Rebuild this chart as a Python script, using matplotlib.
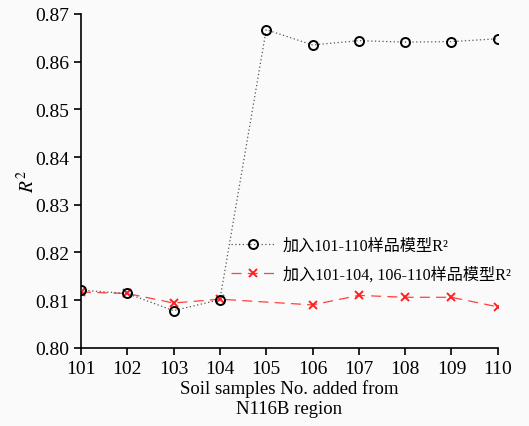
import matplotlib
matplotlib.use("Agg")
import matplotlib.pyplot as plt

x_all = [101, 102, 103, 104, 105, 106, 107, 108, 109, 110]
r2_all = [0.8121, 0.8114, 0.8078, 0.8101, 0.8667, 0.8635, 0.8644, 0.8641, 0.8642, 0.8648]
x_sub = [101, 102, 103, 104, 106, 107, 108, 109, 110]
r2_sub = [0.8117, 0.8114, 0.8094, 0.8102, 0.8090, 0.8110, 0.8106, 0.8106, 0.8086]
label_all = "加入101-110样品模型R²"
label_sub = "加入101-104, 106-110样品模型R²"
xticks = x_all
yticks = [0.80, 0.81, 0.82, 0.83, 0.84, 0.85, 0.86, 0.87]

plt.rcParams['font.family'] = ['Liberation Serif', 'Noto Sans CJK SC']
plt.rcParams['mathtext.fontset'] = 'stix'

bg = '#fafafa'
fig = plt.figure(figsize=(5.29, 4.27), dpi=100, facecolor=bg)
ax = fig.add_axes([0.153, 0.183, 0.788, 0.782], facecolor=bg)

ax.plot(x_all, r2_all, linestyle=(0, (1, 2)), color='#555555', lw=0.9,
        marker='o', markersize=6.5, markerfacecolor='none', markeredgecolor='black',
        markeredgewidth=1.4, label=label_all, zorder=3)
ax.plot(x_sub, r2_sub, linestyle=(0, (8, 5)), color='#ff4040', lw=0.9,
        marker='x', markersize=5.5, markeredgecolor='#ff2020', markeredgewidth=1.4,
        label=label_sub, zorder=2)

ax.set_xlim(101, 110)
ax.set_ylim(0.80, 0.87)
ax.set_xticks(xticks)
ax.set_yticks(yticks)
ax.set_yticklabels([f"{v:.2f}" for v in yticks])
for s in ['top', 'right']:
    ax.spines[s].set_visible(False)
for s in ['left', 'bottom']:
    ax.spines[s].set_linewidth(1.2)
ax.tick_params(direction='out', length=5, width=1.2, labelsize=14)
ax.set_xlabel("Soil samples No. added from\nN116B region", fontsize=13.5, labelpad=2)
ax.set_ylabel("$R^2$", fontsize=14, labelpad=-2)

leg = ax.legend(loc='upper left', bbox_to_anchor=(0.345, 0.35), frameon=False,
                fontsize=11.6, handlelength=2.7, handletextpad=0.5, labelspacing=0.8,
                borderaxespad=0)
fig.savefig("out.png", dpi=100, facecolor=bg)
